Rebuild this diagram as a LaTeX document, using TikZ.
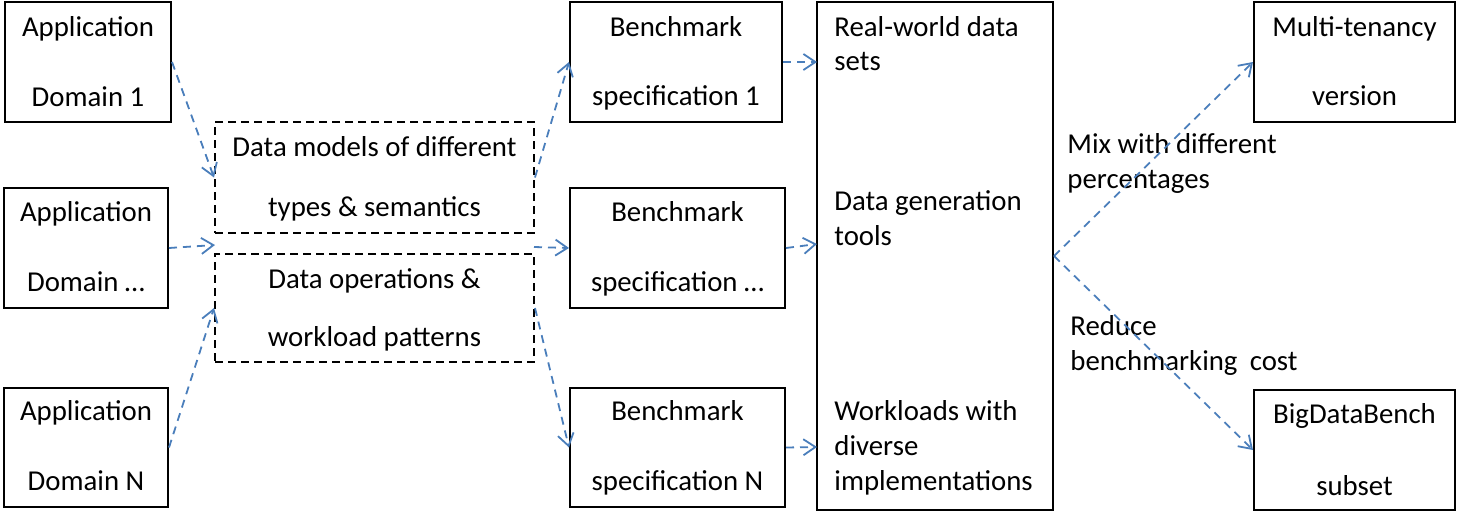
\documentclass[tikz,border=0pt]{standalone}
\usepackage{fontspec}
\setmainfont{Carlito}
\usetikzlibrary{arrows.meta}
\definecolor{arrowblue}{HTML}{4A7EBB}
\begin{document}
\begin{tikzpicture}[x=0.5pt,y=-0.5pt,
  font=\fontsize{14.4}{17.5}\selectfont,
  box/.style={draw=black,line width=1pt,inner sep=0pt},
  dbox/.style={draw=black,line width=1pt,inner sep=0pt,dash pattern=on 4pt off 2.5pt},
  lbl/.style={inner sep=0pt,anchor=base},
  llbl/.style={inner sep=0pt,anchor=base west},
  flow/.style={draw=arrowblue,line width=0.9pt,dash pattern=on 4pt off 3pt,
    -{Straight Barb[length=6pt,width=8pt,line width=0.9pt]}}]
\useasboundingbox (0,0) rectangle (1464,520);

% boxes
\node[box,minimum width=83pt,minimum height=60pt] (a1) at (88,62) {};
\node[box,minimum width=82pt,minimum height=60pt] (a2) at (86,248) {};
\node[box,minimum width=82pt,minimum height=59.5pt] (aN) at (86,447.5) {};
\node[dbox,minimum width=159.5pt,minimum height=55.5pt] (dm) at (374.5,177.5) {};
\node[dbox,minimum width=159.5pt,minimum height=54pt] (dop) at (374.5,308) {};
\node[box,minimum width=106pt,minimum height=60pt] (b1) at (676,62) {};
\node[box,minimum width=107.5pt,minimum height=60pt] (b2) at (677.5,248) {};
\node[box,minimum width=107.5pt,minimum height=59.5pt] (bN) at (677.5,447.5) {};
\node[box,minimum width=118pt,minimum height=254pt] (big) at (935,256) {};
\node[box,minimum width=100.5pt,minimum height=60pt] (mt) at (1354.5,62) {};
\node[box,minimum width=100.5pt,minimum height=60pt] (sub) at (1354.5,450) {};

% box texts
\node[lbl] (a1t) at (88,36) {Application};
\node[lbl] (a1b) at (88,106) {Domain 1};
\node[lbl] (a2t) at (86,221) {Application};
\node[lbl] (a2b) at (86,291) {Domain …};
\node[lbl] (aNt) at (86,420) {Application};
\node[lbl] (aNb) at (86,490) {Domain N};
\node[lbl] (dmt) at (374.5,156) {Data models of different};
\node[lbl] (dmb) at (374.5,216) {types \& semantics};
\node[lbl] (dopt) at (374.5,288) {Data operations \&};
\node[lbl] (dopb) at (374.5,346) {workload patterns};
\node[lbl] (b1t) at (676,36) {Benchmark};
\node[lbl] (b1b) at (676,105) {specification 1};
\node[lbl] (b2t) at (677.5,221) {Benchmark};
\node[lbl] (b2b) at (677.5,291) {specification …};
\node[lbl] (bNt) at (677.5,420) {Benchmark};
\node[lbl] (bNb) at (677.5,490) {specification N};
\node[llbl] (g1) at (834,36) {Real-world data};
\node[llbl] (g2) at (834,70) {sets};
\node[llbl] (g3) at (834,210) {Data generation};
\node[llbl] (g4) at (834,245) {tools};
\node[llbl] (g5) at (834,420) {Workloads with};
\node[llbl] (g6) at (834,455) {diverse};
\node[llbl] (g7) at (834,490) {implementations};
\node[lbl] (mtt) at (1354.5,36) {Multi-tenancy};
\node[lbl] (mtb) at (1354.5,105) {version};
\node[lbl] (subt) at (1354.5,423) {BigDataBench};
\node[lbl] (subb) at (1354.5,495) {subset};

% edge labels
\node[llbl] (m1) at (1067,153) {Mix with different};
\node[llbl] (m2) at (1067,188) {percentages};
\node[llbl] (r1) at (1070,335) {Reduce};
\node[llbl] (r2) at (1070,370) {benchmarking\hspace{0.2em} cost};

% helper coordinates
\coordinate (gapL) at (215,245);
\coordinate (gapR) at (534,247);
\coordinate (big1) at (817,62);
\coordinate (big2) at (817,244);
\coordinate (big3) at (817,447);

% connectors
\draw[flow] (a1.east) -- (dm.west);
\draw[flow] (a2.east) -- (gapL);
\draw[flow] (aN.east) -- (dop.west);
\draw[flow] (dm.east) -- (b1.west);
\draw[flow] (gapR) -- (b2.west);
\draw[flow] (dop.east) -- (bN.west);
\draw[flow] (b1.east) -- (big1);
\draw[flow] (b2.east) -- (big2);
\draw[flow] (bN.east) -- (big3);
\draw[flow] (big.east) -- (mt.west);
\draw[flow] (big.east) -- (sub.west);
\end{tikzpicture}
\end{document}
